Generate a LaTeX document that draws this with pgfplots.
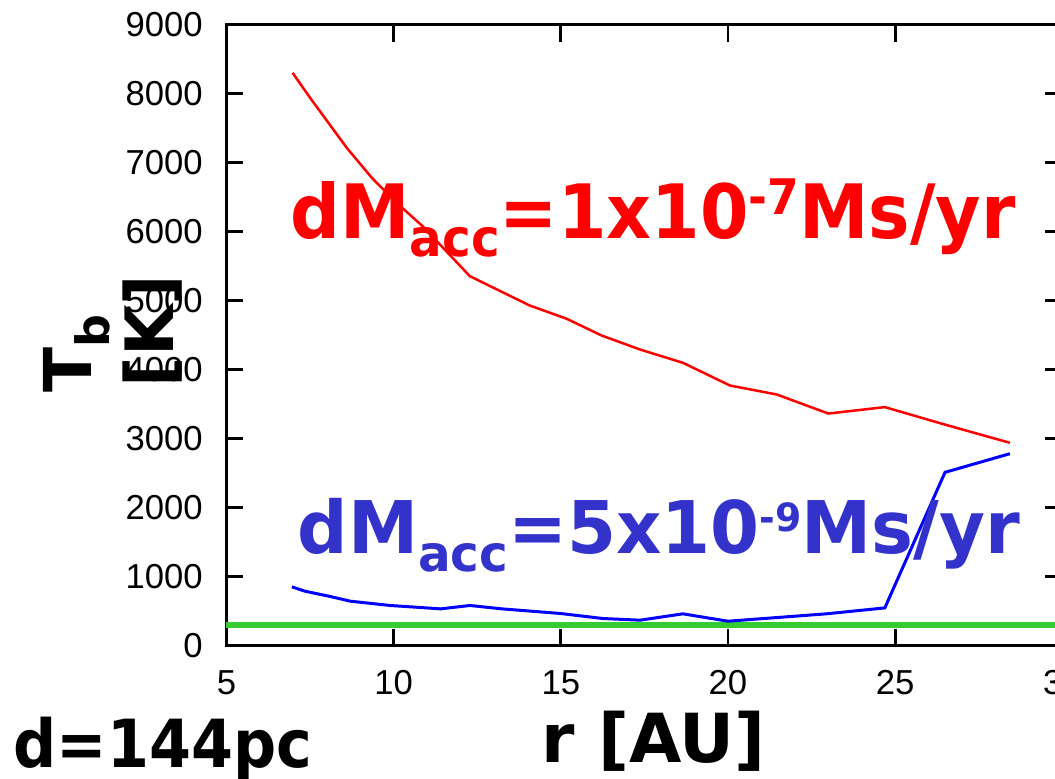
\documentclass[border=0pt]{standalone}
\usepackage{fontspec}
\setmainfont{Liberation Sans}
\newfontfamily\dvb{DejaVu Sans}
\newfontfamily\dvc{DejaVu Sans Condensed}
\usepackage{pgfplots}
\pgfplotsset{compat=1.18}
\definecolor{myred}{RGB}{255,0,0}
\definecolor{myblue}{RGB}{0,0,255}
\definecolor{textblue}{RGB}{51,51,204}
\definecolor{mygreen}{RGB}{51,204,51}
\begin{document}
\begin{tikzpicture}
\begin{axis}[
  name=ax,
  scale only axis,
  width=250.8pt, height=186.3pt,
  xmin=5, xmax=30, ymin=0, ymax=9000,
  xtick={5,10,15,20,25,30},
  ytick={0,1000,2000,3000,4000,5000,6000,7000,8000,9000},
  tick align=inside,
  xtick pos=both, ytick pos=both,
  xticklabel pos=lower, yticklabel pos=left,
  major tick length=5.1pt,
  axis line style={line width=0.8pt},
  every tick/.style={black, line width=0.8pt},
  tick label style={font=\fontsize{10.4}{12}\selectfont},
  /pgf/number format/assume math mode=true,
  /pgf/number format/1000 sep={},
  scaled y ticks=false,
  yticklabel style={xshift=-3.6pt},
  xticklabel style={yshift=-3.9pt},
  clip=false,
]
\addplot[mygreen, line width=1.65pt] coordinates {(5,294) (30,294)};
\addplot[myred, line width=0.75pt] coordinates {
(6.98,8300) (7.5,7940) (8.6,7213) (9.35,6778) (10.09,6416) (10.88,6072)
(12.28,5353) (14.07,4928) (15.18,4735) (16.22,4493) (17.37,4290) (18.66,4096)
(20.06,3768) (21.46,3638) (23.0,3362) (24.69,3455) (26.5,3200) (28.43,2938)};
\addplot[myblue, line width=0.9pt] coordinates {
(6.96,850) (7.35,787) (8.07,714) (8.71,642) (9.9,580) (11.41,531)
(12.28,580) (13.24,531) (14.99,464) (16.26,391) (17.37,367) (18.65,459)
(20.0,352) (22.94,459) (24.69,545) (26.49,2510) (28.43,2780)};
\end{axis}
% red annotation
\node[anchor=base west, inner sep=0pt, text=myred] at ([shift={(19.08pt,122.25pt)}]ax.south west)
 {\scalebox{1.033}[1]{\dvc\bfseries\fontsize{22.5}{24}\selectfont dM\raisebox{-5.6pt}{\fontsize{15.6}{16}\selectfont acc}=1x10\raisebox{6.9pt}{\fontsize{14.7}{15}\selectfont -7}Ms/yr}};
% blue annotation
\node[anchor=base west, inner sep=0pt, text=textblue] at ([shift={(21.18pt,27.75pt)}]ax.south west)
 {\scalebox{1.077}[1]{\dvc\bfseries\fontsize{21.8}{24}\selectfont dM\raisebox{-5.5pt}{\fontsize{15}{16}\selectfont acc}=5x10\raisebox{6.5pt}{\fontsize{11.7}{12}\selectfont -9}Ms/yr}};
% y label (two lines, rotated)
\node[anchor=base west, inner sep=0pt, rotate=90] at ([shift={(-40.32pt,75.75pt)}]ax.south west)
 {\dvb\bfseries\fontsize{19.8}{20}\selectfont T\raisebox{-5.4pt}{\fontsize{13.8}{14}\selectfont b}};
\node[anchor=base west, inner sep=0pt, rotate=90] at ([shift={(-16.0pt,77.25pt)}]ax.south west)
 {\dvb\bfseries\fontsize{20}{22}\selectfont [K]};
% x label
\node[anchor=base west, inner sep=0pt] at ([shift={(94.38pt,-34.95pt)}]ax.south west)
 {\dvb\bfseries\fontsize{20.3}{22}\selectfont r [AU]};
% distance label
\node[anchor=base west, inner sep=0pt] at ([shift={(-64.02pt,-36.45pt)}]ax.south west)
 {\scalebox{1}[1.1]{\dvb\bfseries\fontsize{18.1}{20}\selectfont d=144pc}};
\pgfresetboundingbox
\path[use as bounding box] ([shift={(-67.92pt,-39.75pt)}]ax.south west) rectangle ([shift={(248.58pt,193.65pt)}]ax.south west);
\end{tikzpicture}
\end{document}
